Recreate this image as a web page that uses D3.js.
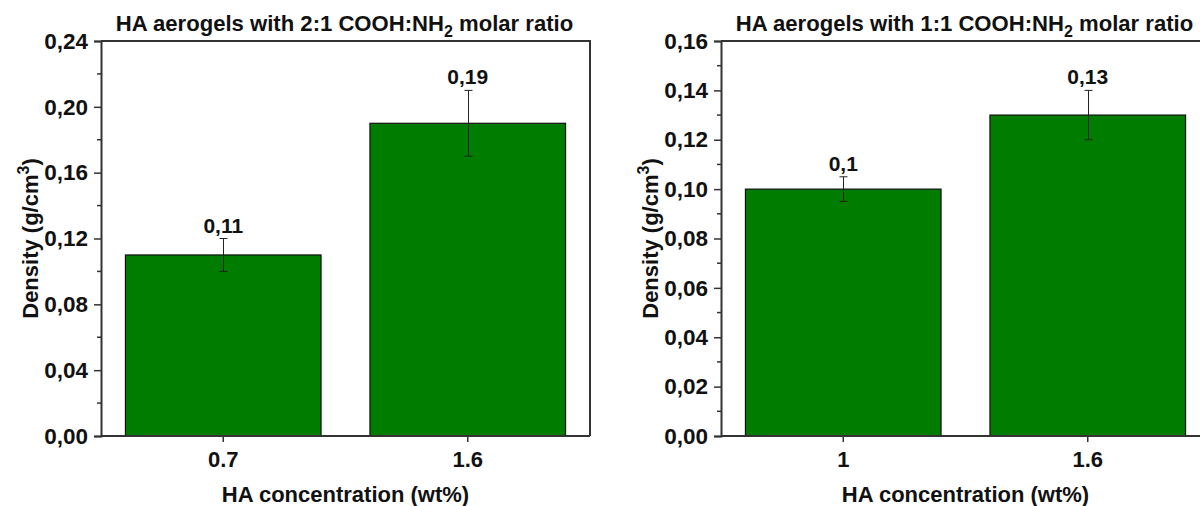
<!DOCTYPE html>
<html>
<head>
<meta charset="utf-8">
<script src="https://cdn.jsdelivr.net/npm/d3@7"></script>
<style>
  body { margin: 0; background: #fff; }
  svg { display: block; font-family: 'Liberation Sans', Arial, sans-serif; font-weight: bold; }
</style>
</head>
<body>
<svg id="chart" width="1200" height="506"></svg>
<script>
// data
var concLeft = ['0.7', '1.6']
var densityLeft = [0.11, 0.19]
var errLeft = [0.01, 0.02]
var labelsLeft = ['0,11', '0,19']
var ticksLeft = [0, 0.04, 0.08, 0.12, 0.16, 0.20, 0.24]

var concRight = ['1', '1.6']
var densityRight = [0.1, 0.13]
var errRight = [0.005, 0.01]
var labelsRight = ['0,1', '0,13']
var ticksRight = [0, 0.02, 0.04, 0.06, 0.08, 0.10, 0.12, 0.14, 0.16]

var ratios = ['2:1', '1:1']

var svg = d3.select('#chart')
var commaFmt = d3.formatLocale({decimal: ',', thousands: '.', grouping: [3], currency: ['', '']}).format('.2f')

var green = '#007c00'
var axisColor = '#333'
var font = "'Liberation Sans', Arial, sans-serif"

var panels = [
  {left: 101, conc: concLeft, density: densityLeft, err: errLeft, labels: labelsLeft, ticks: ticksLeft, ratio: ratios[0]},
  {left: 721, conc: concRight, density: densityRight, err: errRight, labels: labelsRight, ticks: ticksRight, ratio: ratios[1]},
]

// note: `top` is taken by window.top
var plotTop = 41, plotBottom = 436, plotW = 489

panels.forEach(p => {
  var g = svg.append('g')
  var x0 = p.left, x1 = p.left + plotW

  var x = d3.scaleBand().domain(p.conc).range([x0, x1]).paddingInner(0.2).paddingOuter(0.1)
  var yMax = p.ticks[p.ticks.length - 1]
  var y = d3.scaleLinear().domain([0, yMax]).range([plotBottom, plotTop])

  var step = p.ticks[1] - p.ticks[0]
  var minor = d3.range(0, p.ticks.length - 1).map(i => p.ticks[i] + step/2)

  // bars
  g.selectAll('rect.bar').data(p.density).join('rect')
    .attr('class', 'bar')
    .attr('x', (d, i) => x(p.conc[i]))
    .attr('y', d => y(d))
    .attr('width', x.bandwidth())
    .attr('height', d => plotBottom - y(d))
    .attr('fill', green)
    .attr('stroke', '#111')
    .attr('stroke-width', 1.2)

  // error bars
  var eb = g.selectAll('g.err').data(p.density).join('g')
    .attr('class', 'err')
    .attr('transform', (d, i) => `translate(${Math.round(x(p.conc[i]) + x.bandwidth()/2) + .5},0)`)
  eb.append('path')
    .attr('d', (d, i) => {
      var hi = y(d + p.err[i]), lo = y(d - p.err[i])
      return `M0,${hi}V${lo}M-4,${hi}H4M-4,${lo}H4`
    })
    .attr('stroke', '#222').attr('stroke-width', 1).attr('fill', 'none')

  g.selectAll('text.val').data(p.density).join('text')
    .attr('class', 'val')
    .attr('x', (d, i) => x(p.conc[i]) + x.bandwidth()/2)
    .attr('y', (d, i) => y(d + p.err[i]) - 6)
    .attr('text-anchor', 'middle')
    .style('font-size', '21px')
    .attr('fill', '#111')
    .text((d, i) => p.labels[i])

  // frame (top + right)
  g.append('path')
    .attr('d', `M${x0},${plotTop}H${x1}V${plotBottom}`)
    .attr('stroke', axisColor).attr('stroke-width', 2).attr('fill', 'none')

  // y axis
  var yAxis = g.append('g').attr('transform', `translate(${x0},0)`)
    .call(d3.axisLeft(y).tickValues(p.ticks).tickFormat(commaFmt).tickSize(7).tickPadding(6))
  yAxis.select('.domain').attr('stroke', axisColor).attr('stroke-width', 2)
  yAxis.selectAll('.tick line').attr('stroke', axisColor).attr('stroke-width', 1.5)
  yAxis.selectAll('.tick text')
    .style('font-size', '22.5px').style('font-family', font)
    .style('font-weight', 'bold').attr('fill', '#111')
  yAxis.selectAll('line.minor').data(minor).join('line')
    .attr('class', 'minor')
    .attr('x1', -4).attr('x2', 0)
    .attr('y1', d => y(d)).attr('y2', d => y(d))
    .attr('stroke', axisColor).attr('stroke-width', 1.5)

  // x axis
  var xAxis = g.append('g').attr('transform', `translate(0,${plotBottom})`)
    .call(d3.axisBottom(x).tickSize(6).tickPadding(9))
  xAxis.select('.domain').attr('d', `M${x0},0H${x1}`).attr('stroke', axisColor).attr('stroke-width', 2)
  xAxis.selectAll('.tick line').attr('stroke', axisColor).attr('stroke-width', 1.5)
  xAxis.selectAll('.tick text')
    .style('font-size', '22px').style('font-family', font)
    .style('font-weight', 'bold').attr('fill', '#111')

  // titles
  var t = g.append('text')
    .attr('x', (x0 + x1)/2 - 1).attr('y', 31)
    .attr('text-anchor', 'middle')
    .style('font-size', '22.1px').attr('fill', '#111')
  t.append('tspan').text('HA aerogels with ' + p.ratio + ' COOH:NH')
  t.append('tspan').text('2').attr('dy', 6).style('font-size', '16px')
  t.append('tspan').text(' molar ratio').attr('dy', -6)

  g.append('text')
    .attr('x', (x0 + x1)/2).attr('y', 502)
    .attr('text-anchor', 'middle')
    .style('font-size', '22px').attr('fill', '#111')
    .text('HA concentration (wt%)')

  var yt = g.append('text')
    .attr('transform', `translate(${x0 - 63},${(plotTop + plotBottom)/2}) rotate(-90)`)
    .attr('text-anchor', 'middle')
    .style('font-size', '22px').attr('fill', '#111')
  yt.append('tspan').text('Density (g/cm')
  yt.append('tspan').text('3').attr('dy', -9).style('font-size', '16px')
  yt.append('tspan').text(')').attr('dy', 9)
})
</script>
</body>
</html>
